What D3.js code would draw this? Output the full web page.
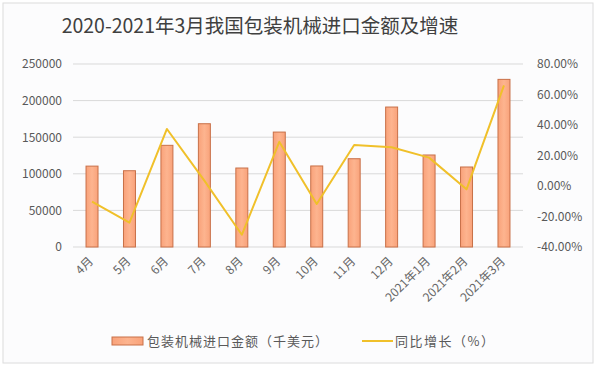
<!DOCTYPE html>
<html><head><meta charset="utf-8">
<script src="https://cdn.jsdelivr.net/npm/d3@7"></script>
<style>body{margin:0;background:#fff;}svg{display:block;font-family:"Noto Sans CJK SC","Noto Sans",sans-serif;}</style>
</head><body>
<svg id="c" width="600" height="367"></svg>
<script>
const title = "2020-2021年3月我国包装机械进口金额及增速";
const categories = ["4月","5月","6月","7月","8月","9月","10月","11月","12月","2021年1月","2021年2月","2021年3月"];
const amounts = [110500, 104200, 138900, 168400, 107900, 157000, 110700, 120600, 191200, 125700, 109300, 229000];
const growth = [-10.3, -24.0, 37.4, 3.5, -32.0, 29.0, -11.8, 26.9, 25.4, 18.6, -2.2, 66.0];
const leftTicks = [0, 50000, 100000, 150000, 200000, 250000];
const rightTicks = [-40, -20, 0, 20, 40, 60, 80];
const seriesNames = ["包装机械进口金额（千美元）", "同比增长（%）"];

const svg = d3.select("#c");
svg.append("rect").attr("x",0).attr("y",0).attr("width",600).attr("height",367).attr("fill","#ffffff");
svg.append("rect").attr("x",3).attr("y",3).attr("width",590).attr("height",360).attr("fill","#fcfcfd").attr("stroke","#dcdcdc");

const defs = svg.append("defs");
const g = defs.append("linearGradient").attr("id","bg").attr("x1",0).attr("x2",1).attr("y1",0).attr("y2",0);
g.append("stop").attr("offset","0%").attr("stop-color","#f9a27a");
g.append("stop").attr("offset","50%").attr("stop-color","#fdb48f");
g.append("stop").attr("offset","100%").attr("stop-color","#f9a27a");

const x = d3.scaleBand().domain(categories).range([73.3, 522.7]).paddingInner(0.68).paddingOuter(0.34);
const y = d3.scaleLinear().domain([0, 250000]).range([247, 64]);
const y2 = d3.scaleLinear().domain([-40, 80]).range([247, 64]);

// gridlines
svg.append("g").selectAll("line").data(leftTicks).join("line")
  .attr("x1",73).attr("x2",523).attr("y1",d=>y(d)).attr("y2",d=>y(d))
  .attr("stroke","#d9d9d9").attr("stroke-width",1);

// left axis
const la = svg.append("g").attr("transform","translate(73,0)")
  .call(d3.axisLeft(y).tickValues(leftTicks).tickSize(0).tickPadding(11).tickFormat(d3.format("d")));
la.select(".domain").remove();
la.selectAll("text").attr("font-size",12).attr("fill","#595959").attr("font-family","'Noto Sans CJK SC',sans-serif");

// right axis
const ra = svg.append("g").attr("transform","translate(523,0)")
  .call(d3.axisRight(y2).tickValues(rightTicks).tickSize(0).tickPadding(14).tickFormat(d=>d.toFixed(2)+"%"));
ra.select(".domain").remove();
ra.selectAll("text").attr("font-size",12).attr("fill","#595959").attr("font-family","'Noto Sans CJK SC',sans-serif");

// bars
svg.append("g").selectAll("rect").data(amounts).join("rect")
  .attr("x",(d,i)=>x(categories[i])).attr("width",x.bandwidth())
  .attr("y",d=>y(d)).attr("height",d=>y(0)-y(d))
  .attr("fill","url(#bg)").attr("stroke","#c87048").attr("stroke-width",1);

// line
const line = d3.line().x((d,i)=>x(categories[i])+x.bandwidth()/2).y(d=>y2(d));
svg.append("path").datum(growth).attr("d",line).attr("fill","none")
  .attr("stroke","#f0c02a").attr("stroke-width",2).attr("stroke-linejoin","round");

// x labels
svg.append("g").selectAll("text").data(categories).join("text")
  .attr("transform",d=>`translate(${x(d)+x.bandwidth()/2+2},${262}) rotate(-45)`)
  .attr("text-anchor","end").attr("font-size",12).attr("fill","#666").text(d=>d);

// title
svg.append("text").attr("x",260).attr("y",33).attr("text-anchor","middle")
  .attr("font-size",19.5).attr("fill","#404040").text(title);

// legend
svg.append("rect").attr("x",112).attr("y",337).attr("width",31).attr("height",8)
  .attr("fill","url(#bg)").attr("stroke","#c87048");
svg.append("text").attr("x",147).attr("y",346).attr("font-size",13).attr("letter-spacing",1)
  .attr("fill","#595959").text(seriesNames[0]);
svg.append("line").attr("x1",362).attr("x2",393).attr("y1",341).attr("y2",341)
  .attr("stroke","#f0c02a").attr("stroke-width",2);
svg.append("text").attr("x",395).attr("y",346).attr("font-size",13).attr("letter-spacing",1.5)
  .attr("fill","#595959").text(seriesNames[1]);
</script>
</body></html>
